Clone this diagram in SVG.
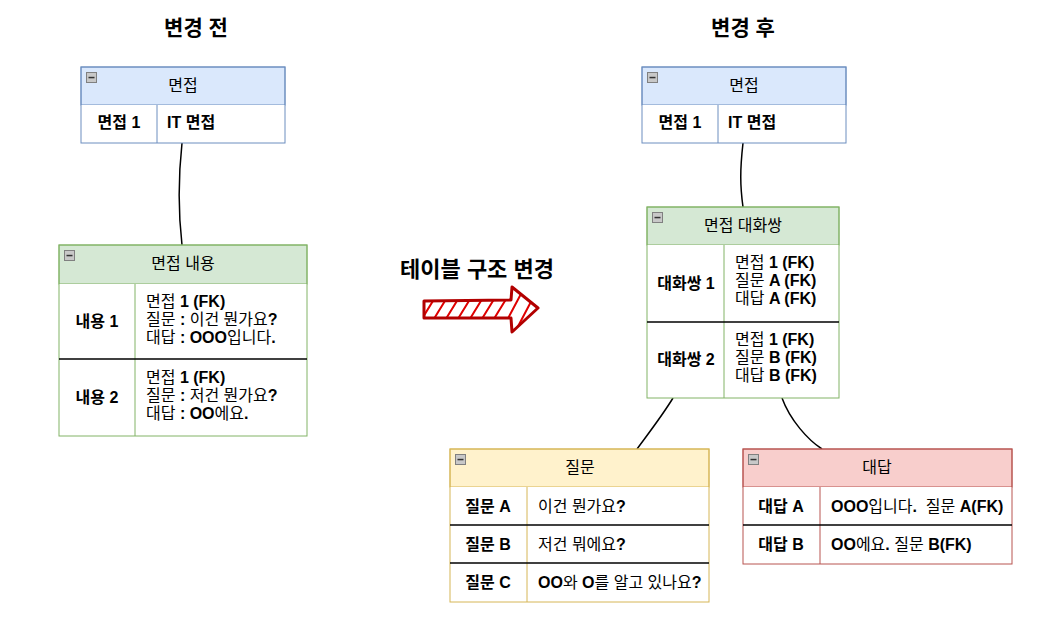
<svg xmlns="http://www.w3.org/2000/svg" width="1057" height="621" viewBox="0 0 1057 621">
<defs>
<style>
text{font-family:"Liberation Sans","Noto Sans CJK KR",sans-serif;font-size:16px;fill:#000}
.t{font-size:21px;font-weight:bold;text-anchor:middle}
.h{text-anchor:middle;font-size:16px}
.k{text-anchor:middle;font-weight:bold}
.c{font-weight:bold}
.sep{stroke:#000;stroke-width:1.5}
.blue{fill:#dae8fc;stroke:#6c8ebf}
.green{fill:#d5e8d4;stroke:#82b366}
.yellow{fill:#fff2cc;stroke:#d6b656}
.red{fill:#f8cecc;stroke:#b85450}
.bl{stroke:#6c8ebf;fill:none}
.gl{stroke:#82b366;fill:none}
.yl{stroke:#d6b656;fill:none}
.rl{stroke:#b85450;fill:none}
.wb{fill:#fff}
.conn{fill:none;stroke:#000;stroke-width:1.5}
</style>
<symbol id="minus" viewBox="0 0 11 11">
<rect x="0.5" y="0.5" width="10" height="10" fill="#c8c8c8" stroke="#808080"/>
<rect x="2.5" y="4.8" width="6" height="1.5" fill="#333"/>
</symbol>
<clipPath id="arrowClip">
<path d="M424,301 L511,300 L512,287 L538,308 L512,332 L511,318 L424,318 Z"/>
</clipPath>
</defs>
<rect width="1057" height="621" fill="#fff"/>

<text class="t" x="196" y="35">변경 전</text>
<text class="t" x="743" y="35">변경 후</text>

<g id="connectors">
<path class="conn" d="M182,143 C178,180 178,210 182,245"/>
<path class="conn" d="M743,143 C740,170 740,185 743,207"/>
<path class="conn" d="M673,398 C662,416 648,434 637,449"/>
<path class="conn" d="M782,398 C790,420 808,440 822,449"/>
</g>

<g id="table-interview-before">
<rect class="blue" x="81" y="67" width="204" height="38"/>
<use href="#minus" x="86" y="72" width="11" height="11"/>
<text class="h" x="183" y="91">면접</text>
<rect class="wb" x="81" y="105" width="204" height="38"/>
<rect class="bl" x="81" y="67" width="204" height="76"/>
<line class="bl" x1="157" y1="105" x2="157" y2="143"/>
<text class="k" x="119" y="128">면접 1</text>
<text class="c" x="167" y="128">IT 면접</text>
</g>

<g id="table-content">
<rect class="green" x="59" y="245" width="248" height="39"/>
<use href="#minus" x="64" y="250" width="11" height="11"/>
<text class="h" x="183" y="269">면접 내용</text>
<rect class="wb" x="59" y="284" width="248" height="152"/>
<rect class="gl" x="59" y="245" width="248" height="191"/>
<line class="gl" x1="135" y1="284" x2="135" y2="436"/>
<line class="sep" x1="59" y1="359" x2="307" y2="359"/>
<text class="k" x="97" y="327">내용 1</text>
<text x="146" y="307">면접 <tspan class="c">1 (FK)</tspan></text>
<text x="146" y="325">질문 <tspan class="c">:</tspan> 이건 뭔가요<tspan class="c">?</tspan></text>
<text x="146" y="343">대답 <tspan class="c">: OOO</tspan>입니다<tspan class="c">.</tspan></text>
<text class="k" x="97" y="403">내용 2</text>
<text x="146" y="383">면접 <tspan class="c">1 (FK)</tspan></text>
<text x="146" y="401">질문 <tspan class="c">:</tspan> 저건 뭔가요<tspan class="c">?</tspan></text>
<text x="146" y="419">대답 <tspan class="c">: OO</tspan>에요<tspan class="c">.</tspan></text>
</g>

<g id="change-arrow">
<text class="t" x="477" y="277" style="font-size:22px">테이블 구조 변경</text>
<g clip-path="url(#arrowClip)" stroke="#e00000" stroke-width="2">
<path d="M420,322 L436,296 M432,322 L448,296 M444,322 L460,296 M456,322 L472,296 M468,322 L484,296 M480,322 L496,296 M492,322 L508,296 M504,326 L522,292 M514,334 L534,296 M524,336 L542,302"/>
</g>
<path d="M424,301 L511,300 L512,287 L538,308 L512,332 L511,318 L424,318 Z" fill="none" stroke="#b20000" stroke-width="3" stroke-linejoin="round"/>
</g>

<g id="table-interview-after">
<rect class="blue" x="642" y="67" width="204" height="38"/>
<use href="#minus" x="647" y="72" width="11" height="11"/>
<text class="h" x="744" y="91">면접</text>
<rect class="wb" x="642" y="105" width="204" height="38"/>
<rect class="bl" x="642" y="67" width="204" height="76"/>
<line class="bl" x1="718" y1="105" x2="718" y2="143"/>
<text class="k" x="680" y="128">면접 1</text>
<text class="c" x="728" y="128">IT 면접</text>
</g>

<g id="table-pair">
<rect class="green" x="647" y="207" width="192" height="38"/>
<use href="#minus" x="652" y="212" width="11" height="11"/>
<text class="h" x="743" y="231">면접 대화쌍</text>
<rect class="wb" x="647" y="245" width="192" height="153"/>
<rect class="gl" x="647" y="207" width="192" height="191"/>
<line class="gl" x1="724" y1="245" x2="724" y2="398"/>
<line class="sep" x1="647" y1="322" x2="839" y2="322"/>
<text class="k" x="686" y="289">대화쌍 1</text>
<text x="735" y="268">면접 <tspan class="c">1 (FK)</tspan></text>
<text x="735" y="286">질문 <tspan class="c">A (FK)</tspan></text>
<text x="735" y="304">대답 <tspan class="c">A (FK)</tspan></text>
<text class="k" x="686" y="365">대화쌍 2</text>
<text x="735" y="345">면접 <tspan class="c">1 (FK)</tspan></text>
<text x="735" y="363">질문 <tspan class="c">B (FK)</tspan></text>
<text x="735" y="381">대답 <tspan class="c">B (FK)</tspan></text>
</g>

<g id="table-question">
<rect class="yellow" x="450" y="449" width="259" height="38"/>
<use href="#minus" x="455" y="454" width="11" height="11"/>
<text class="h" x="580" y="473">질문</text>
<rect class="wb" x="450" y="487" width="259" height="115"/>
<rect class="yl" x="450" y="449" width="259" height="153"/>
<line class="yl" x1="527" y1="487" x2="527" y2="602"/>
<line class="sep" x1="450" y1="525" x2="709" y2="525"/>
<line class="sep" x1="450" y1="563" x2="709" y2="563"/>
<text class="k" x="488" y="512">질문 A</text>
<text x="538" y="512">이건 뭔가요<tspan class="c">?</tspan></text>
<text class="k" x="488" y="550">질문 B</text>
<text x="538" y="550">저건 뭐에요<tspan class="c">?</tspan></text>
<text class="k" x="488" y="588">질문 C</text>
<text x="538" y="588"><tspan class="c">OO</tspan>와 <tspan class="c">O</tspan>를 알고 있나요<tspan class="c">?</tspan></text>
</g>

<g id="table-answer">
<rect class="red" x="743" y="449" width="269" height="38"/>
<use href="#minus" x="748" y="454" width="11" height="11"/>
<text class="h" x="877" y="473">대답</text>
<rect class="wb" x="743" y="487" width="269" height="77"/>
<rect class="rl" x="743" y="449" width="269" height="115"/>
<line class="rl" x1="820" y1="487" x2="820" y2="564"/>
<line class="sep" x1="743" y1="525" x2="1012" y2="525"/>
<text class="k" x="781" y="512">대답 A</text>
<text x="831" y="512" xml:space="preserve"><tspan class="c">OOO</tspan>입니다<tspan class="c">.</tspan>  질문 <tspan class="c">A(FK)</tspan></text>
<text class="k" x="781" y="550">대답 B</text>
<text x="831" y="550"><tspan class="c">OO</tspan>에요<tspan class="c">.</tspan> 질문 <tspan class="c">B(FK)</tspan></text>
</g>
</svg>
